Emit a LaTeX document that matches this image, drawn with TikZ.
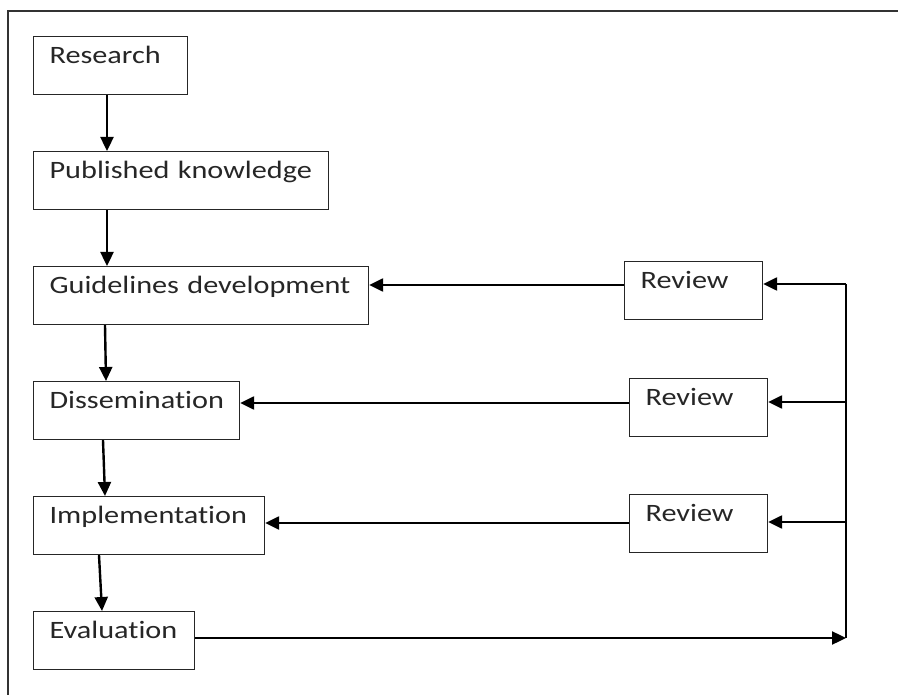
\documentclass[tikz,border=0pt]{standalone}
\usepackage{fontspec}
\setmainfont{Carlito}[FakeStretch=1.21, Ligatures={NoCommon}, RawFeature={-liga}]
\usetikzlibrary{arrows.meta,calc}
\begin{document}
\begin{tikzpicture}[x=1pt,y=-1pt,
  box/.style={draw=black!85, line width=1.2pt, rectangle, anchor=north west,
    inner ysep=0pt, inner xsep=16pt, text height=27pt, text depth=31pt,
    align=left, font=\fontsize{25}{30}\selectfont, text=black!85},
  arr/.style={line width=2.4pt, -{Triangle[length=14pt,width=13pt]}},
  ln/.style={line width=2.4pt}]
\useasboundingbox (0,0) rectangle (898,695);
\draw[line width=1.5pt, black!80] (8,700) -- (8,11) -- (905,11);
% left column
\node[box, text width=122pt] (res) at (33,36) {Research};
\node[box, text width=263pt] (pk) at (33,151) {Published knowledge};
\node[box, text width=303pt] (gd) at (33,266) {Guidelines development};
\node[box, text width=174pt] (dis) at (33,381) {Dissemination};
\node[box, text width=199pt] (imp) at (33,496) {Implementation};
\node[box, text width=129pt] (ev) at (33,611) {Evaluation};
% review boxes
\node[box, text width=106pt] (rv1) at (624,261) {Review};
\node[box, text width=106pt] (rv2) at (629,378) {Review};
\node[box, text width=106pt] (rv3) at (629,494) {Review};
% vertical arrows
\draw[arr] ([xshift=74pt]res.south west) -- ([xshift=74pt]pk.north west);
\draw[arr] ([xshift=74pt]pk.south west) -- ([xshift=74pt]gd.north west);
\draw[arr] ([xshift=72pt]gd.south west) -- ([xshift=73pt]dis.north west);
\draw[arr] ([xshift=70pt]dis.south west) -- ([xshift=72pt]imp.north west);
\draw[arr] ([xshift=66pt]imp.south west) -- ([xshift=69pt]ev.north west);
% bus
\coordinate (b1) at (846,284);
\coordinate (b2) at (846,402);
\coordinate (b3) at (846,522);
\coordinate (b4) at (846,638);
\draw[ln] (b1) -- (b4);
\draw[arr] (b1) -- (b1 -| rv1.east);
\draw[arr] (b2) -- (b2 -| rv2.east);
\draw[arr] (b3) -- (b3 -| rv3.east);
\draw[arr] (ev.east |- b4) -- (b4);
% review to left column
\coordinate (r1) at (624,285);
\coordinate (r2) at (629,403);
\coordinate (r3) at (629,523);
\draw[arr] (r1 -| rv1.west) -- (r1 -| gd.east);
\draw[arr] (r2 -| rv2.west) -- (r2 -| dis.east);
\draw[arr] (r3 -| rv3.west) -- (r3 -| imp.east);
\end{tikzpicture}
\end{document}
